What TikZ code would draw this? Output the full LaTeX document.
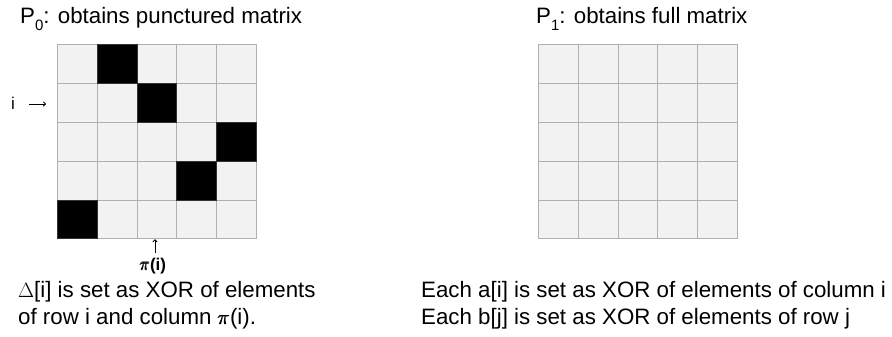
\documentclass[tikz,border=0pt]{standalone}
\usepackage{amsmath}
\usepackage{fontspec}
\setmainfont{Liberation Sans}
\usetikzlibrary{arrows.meta}
\definecolor{cellfill}{HTML}{F2F2F2}
\definecolor{cellline}{HTML}{B0B0B0}
\newcommand{\bpi}{\pmb{$\pi$}}
\newcommand{\lowsub}[1]{\raisebox{-7pt}{\fontsize{15}{15}\selectfont #1}}
\begin{document}
\begin{tikzpicture}[x=1pt,y=-1pt,
  cell/.style={draw=cellline, fill=cellfill, line width=1pt, inner sep=0pt,
    minimum width=39.8pt, minimum height=38.8pt, anchor=north west},
  blackcell/.style={cell, fill=black, draw=black!80},
  bigtext/.style={inner sep=0pt, anchor=base west, font=\fontsize{22.3}{27.5}\selectfont},
  smalltext/.style={inner sep=0pt, font=\fontsize{17}{20}\selectfont},
  thinarrow/.style={-{To[length=3pt,width=5pt]}, line width=0.8pt, black}]
\useasboundingbox (0,0) rectangle (892,337);
% grids
\foreach \r in {0,...,4}{
  \foreach \c in {0,...,4}{
    \node[cell] (L-\r-\c) at ({57+39.8*\c},{44.3+38.8*\r}) {};
    \node[cell] (R-\r-\c) at ({538+39.8*\c},{44.3+38.8*\r}) {};
  }
}
\foreach \r/\c in {0/1,1/2,2/4,3/3,4/0}{
  \node[blackcell] (B-\r-\c) at ({57+39.8*\c},{44.3+38.8*\r}) {};
}
% titles
\node[bigtext] (t0) at (20,24) {P\lowsub{0}: obtains punctured matrix};
\node[bigtext] (t1) at (536,24) {P\lowsub{1}: obtains full matrix};
% row marker
\node[smalltext, anchor=base west] (ilab) at (11,110) {i};
\coordinate (iend) at (46,104);
\draw[thinarrow] (29,104) coordinate (istart) -- (iend);
% column marker
\node[smalltext] (pilab) at (153,266) {\bpi\textbf{(i)}};
\coordinate (pitop) at (155,253);
\draw[thinarrow] (pitop) -- (L-4-2.south -| pitop);
% bottom texts
\node[bigtext, align=left, anchor=north west] (d0) at (18,281)
  {$\Delta$[i] is set as XOR of elements\\ of row i and column \bpi(i).};
\node[bigtext, align=left, anchor=north west] (d1) at (421,281)
  {Each a[i] is set as XOR of elements of column i\\ Each b[j] is set as XOR of elements of row j};
\end{tikzpicture}
\end{document}
